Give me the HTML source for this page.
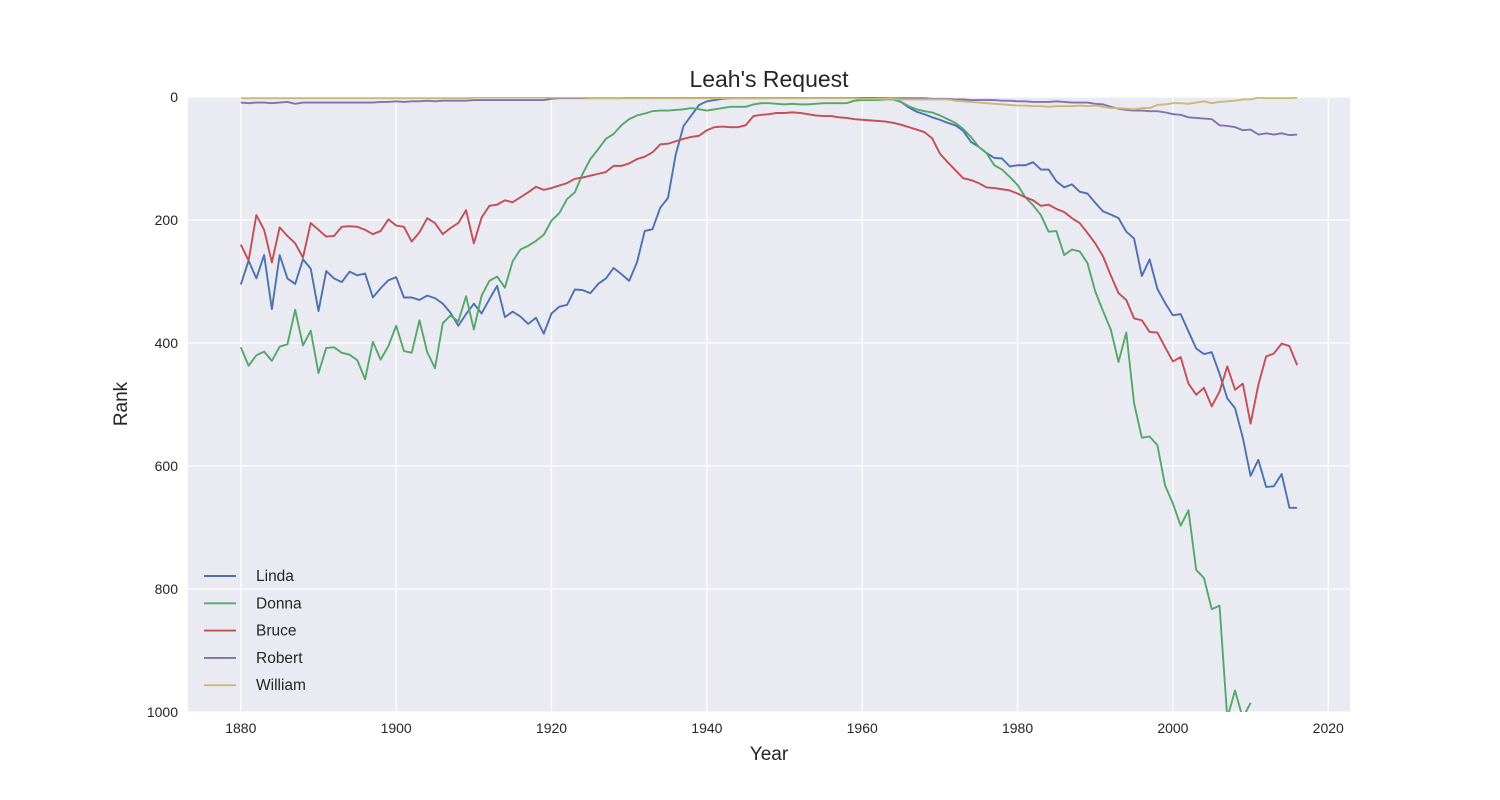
<!DOCTYPE html>
<html><head><meta charset="utf-8"><style>
body{margin:0;background:#fff;}
svg{display:block;font-family:"Liberation Sans",Arial,sans-serif;}
</style></head><body>
<svg id="chart" width="1500" height="800"></svg>
<script>
const years = []; for (let y = 1880; y <= 2016; y++) years.push(y);
const xTicks = [1880,1900,1920,1940,1960,1980,2000,2020];
const yTicks = [0,200,400,600,800,1000];
const seriesNames = ["Linda","Donna","Bruce","Robert","William"];
const linda = [305,266,295,257,345,257,295,304,264,279,348,283,295,301,284,290,287,326,311,298,293,326,326,330,323,327,336,351,372,353,336,352,329,307,358,349,357,369,359,385,352,341,338,313,314,319,304,295,278,288,299,269,218,215,180,164,93,47,30,13,7,5,3,2,2,2,2,2,2,1,1,1,1,1,1,1,1,1,1,1,1,1,2,2,3,8,17,24,28,33,37,42,46,55,73,81,91,99,100,113,111,111,106,118,118,137,147,142,154,157,172,186,191,197,219,230,291,264,312,335,355,353,381,409,418,415,450,490,506,554,616,590,634,633,613,668,668];
const donna = [407,437,420,414,429,406,402,346,404,380,449,408,407,416,419,428,459,398,427,405,372,413,416,363,415,441,368,355,365,324,378,323,299,292,310,267,248,242,234,224,201,189,166,155,125,101,85,68,60,46,36,30,27,23,22,22,21,20,18,20,22,20,18,16,16,16,12,10,10,11,12,11,12,12,11,10,10,10,10,6,5,5,5,4,4,8,15,20,23,25,30,36,42,52,65,81,91,111,118,130,143,163,176,192,219,218,257,248,251,270,316,348,378,431,383,498,554,552,566,632,661,697,672,769,782,833,827,1010,965,1010,985,null,null,null,null,null,null];
const bruce = [240,266,192,216,269,212,226,238,261,205,216,227,226,211,210,211,216,223,218,199,209,211,235,220,197,205,223,213,205,184,238,196,177,175,168,171,163,155,146,151,148,144,140,133,131,128,125,122,112,112,108,101,97,90,77,76,72,68,65,63,54,49,48,49,49,46,31,29,28,26,26,25,26,28,30,31,31,33,34,36,37,38,39,40,42,45,49,53,57,67,92,106,119,132,135,140,147,148,150,152,157,163,168,177,175,182,187,197,205,221,238,259,290,319,330,360,363,382,383,407,430,423,466,484,473,503,479,438,476,466,531,468,422,417,401,405,436];
const robert = [9,10,9,9,10,9,8,11,9,9,9,9,9,9,9,9,9,9,8,8,7,8,7,7,6,7,6,6,6,6,5,5,5,5,5,5,5,5,5,5,3,2,2,2,2,2,2,2,2,2,1,1,1,1,1,1,1,1,1,1,1,1,1,1,1,1,1,1,1,1,1,1,1,1,1,1,1,1,1,1,2,2,2,2,2,2,2,2,2,3,3,3,4,4,5,5,5,5,6,6,7,7,8,8,8,7,8,9,9,9,11,12,16,19,21,22,22,23,23,25,28,29,33,34,35,36,46,47,49,54,53,61,59,61,59,62,61];
const william = [2,2,2,2,2,2,2,2,2,2,2,2,2,2,2,2,2,2,2,2,2,2,2,2,2,2,2,2,2,2,1,1,1,1,1,1,1,1,1,1,1,1,1,1,1,2,2,2,2,2,2,2,2,2,2,2,2,2,2,2,2,2,2,2,2,2,2,2,2,2,2,2,2,2,2,2,2,2,2,2,3,3,3,3,3,4,4,4,4,4,4,4,6,7,8,9,10,11,12,13,14,14,15,15,16,15,15,15,14,15,14,16,18,18,19,20,18,18,13,12,10,10,11,9,7,10,8,7,6,4,4,1,2,2,2,2,1];
const colors = ["#4C72B0","#55A868","#C44E52","#8172B2","#CCB974"];

const NS = "http://www.w3.org/2000/svg";
const svg = document.getElementById("chart");
const L = 188, R = 1350, T = 97, B = 712;
const x = v => L + (v - 1873.2) / (2022.8 - 1873.2) * (R - L);
const y = v => T + v / 1000 * (B - T);
function mk(tag, attrs, parent) {
  const e = document.createElementNS(NS, tag);
  for (const k in attrs) e.setAttribute(k, attrs[k]);
  (parent || svg).appendChild(e); return e;
}
const bg = mk("rect", {x:L, y:T, width:R-L, height:B-T, fill:"#EAEAF2"});


const defs = mk("defs", {});
const cp = mk("clipPath", {id:"clip"}, defs);
mk("rect", {x:L, y:T, width:R-L, height:B-T}, cp);

xTicks.forEach(t => {
  const g = mk("line", {x1:x(t), x2:x(t), y1:T, y2:B, stroke:"#fff", "stroke-width":1.2});
  
  
  const tx = mk("text", {x:x(t), y:B+21, "text-anchor":"middle", "font-size":14, fill:"#262626"});
  tx.textContent = t;
  
  
});
yTicks.forEach(t => {
  const g = mk("line", {x1:L, x2:R, y1:y(t), y2:y(t), stroke:"#fff", "stroke-width":1.2});
  
  
  const tx = mk("text", {x:L-10, y:y(t)+5, "text-anchor":"end", "font-size":14, fill:"#262626"});
  tx.textContent = t;
  
  
});

const all = [linda, donna, bruce, robert, william];
const lg = mk("g", {"clip-path":"url(#clip)"});
all.forEach((s, i) => {
  let d = "", pen = false;
  s.forEach((v, j) => {
    if (v === null) { pen = false; return; }
    d += (pen ? "L" : "M") + x(years[j]).toFixed(2) + "," + y(v).toFixed(2);
    pen = true;
  });
  const p = mk("path", {d:d, fill:"none", stroke:colors[i], "stroke-width":1.9, "stroke-linejoin":"round"}, lg);
  
  
});

seriesNames.forEach((n, i) => {
  const yy = 576 + i * 27.3;
  const ln = mk("line", {x1:204, x2:236, y1:yy, y2:yy, stroke:colors[i], "stroke-width":1.9});
  
  
  const tx = mk("text", {x:256, y:yy+5, "font-size":15.5, fill:"#262626"});
  tx.textContent = n;
  
  
});

const title = mk("text", {x:769, y:87, "text-anchor":"middle", "font-size":23, fill:"#262626"});
title.textContent = "Leah's Request";


const xt = mk("text", {x:769, y:760, "text-anchor":"middle", "font-size":19, fill:"#262626"});
xt.textContent = "Year";


const yt = mk("text", {x:0, y:0, "text-anchor":"middle", "font-size":19, fill:"#262626", transform:"translate(127,404) rotate(-90)"});
yt.textContent = "Rank";


</script>
</body></html>
